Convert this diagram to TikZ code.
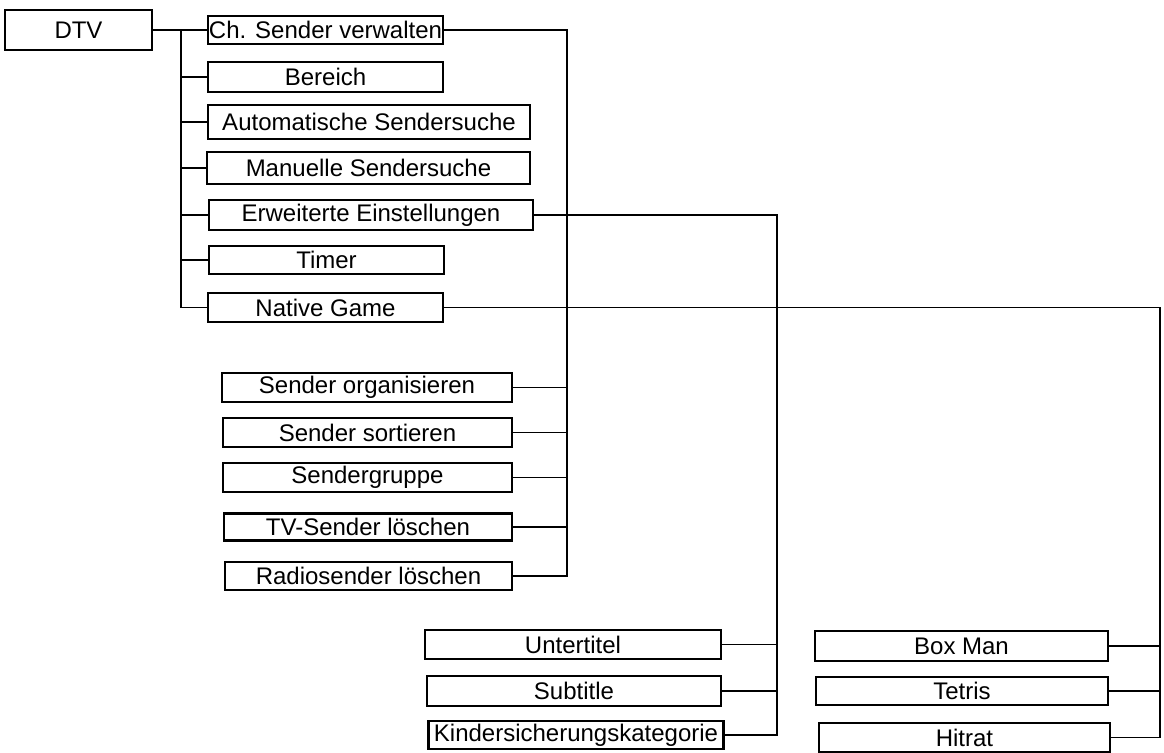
\documentclass[tikz,border=0pt]{standalone}
\usepackage{fontspec}
\setmainfont{Liberation Sans}
\usetikzlibrary{positioning}

\begin{document}
\begin{tikzpicture}[x=0.5pt,y=-0.5pt,
  every node/.style={draw,line width=1.1pt,inner sep=0pt,font=\fontsize{12}{14}\selectfont},
  box/.style args={#1/#2}{minimum width=#1*0.5pt,minimum height=#2*0.5pt},
  link/.style={line width=0.75pt}]
  \useasboundingbox (0,0) rectangle (1164,752);

  % Main menu
  \node[box=147/40] (dtv) at (78.5,30) {DTV};
  \node[box=235/28] (ch) at (325.5,30) {Ch. Sender verwalten};
  \node[box=235/30] (ber) at (325.5,77) {Bereich};
  \node[box=322/34] (auto) at (369,122) {Automatische Sendersuche};
  \node[box=323/32] (man) at (368.5,168) {Manuelle Sendersuche};
  \node[box=324/30] (erw) at (371,215) {Erweiterte Einstellungen};
  \node[box=235/28] (tim) at (326.5,260) {Timer};
  \node[box=235/29] (nat) at (325.5,307.5) {Native Game};

  % Ch. Sender verwalten submenu
  \node[box=290/29] (org) at (367,387.5) {Sender organisieren};
  \node[box=289/29] (sort) at (367.5,432.5) {Sender sortieren};
  \node[box=289/29] (grp) at (367.5,477.5) {Sendergruppe};
  \node[box=288/27] (tv) at (368,527) {TV-Sender löschen};
  \node[box=287/28] (rad) at (368.5,576) {Radiosender löschen};

  % Erweiterte Einstellungen submenu
  \node[box=296/29] (utt) at (573,644.5) {Untertitel};
  \node[box=294/30] (sub) at (574,691) {Subtitle};
  \node[box=295/28] (kin) at (576,735) {Kindersicherungskategorie};

  % Native Game submenu
  \node[box=293/30] (box) at (961.5,646) {Box Man};
  \node[box=292/28] (tet) at (962,691) {Tetris};
  \node[box=291/29] (hit) at (964.5,737.5) {Hitrat};

  % Connectors
  \coordinate (s1) at (181,30);
  \coordinate (s2) at (567,0);
  \coordinate (s3) at (777,0);
  \coordinate (s4) at (1160,0);
  \draw[link] (dtv.east) -- (ch.west);
  \draw[link] (s1) |- (nat.west);
  \foreach \n in {ber,auto,man,erw,tim}
    \draw[link] (s1 |- \n.west) -- (\n.west);
  \draw[link] (ch.east) -| (s2 |- rad.east) -- (rad.east);
  \foreach \n in {org,sort,grp,tv}
    \draw[link] (s2 |- \n.east) -- (\n.east);
  \draw[link] (erw.east) -| (s3 |- kin.east) -- (kin.east);
  \foreach \n in {utt,sub}
    \draw[link] (s3 |- \n.east) -- (\n.east);
  \draw[link] (nat.east) -| (s4 |- hit.east) -- (hit.east);
  \foreach \n in {box,tet}
    \draw[link] (s4 |- \n.east) -- (\n.east);
\end{tikzpicture}
\end{document}
